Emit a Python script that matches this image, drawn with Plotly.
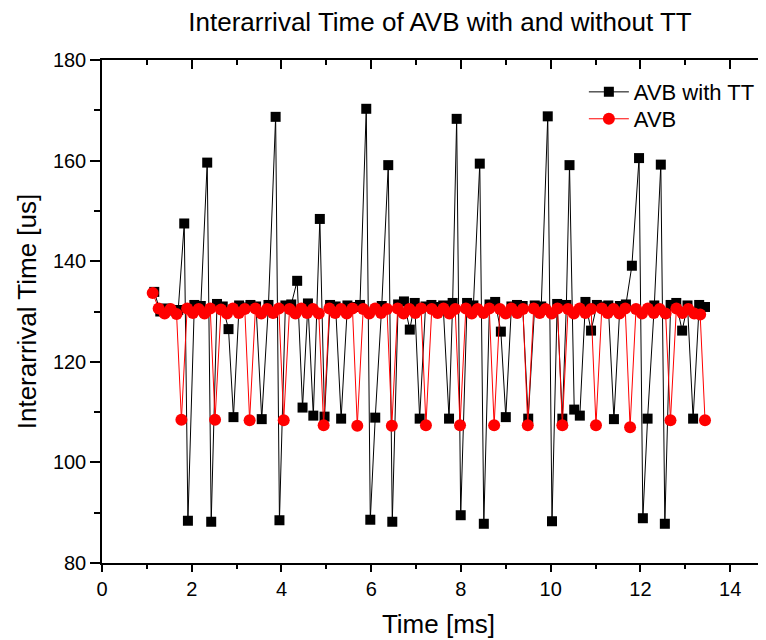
import plotly.graph_objects as go

# ---- data ----
avb_tt_time_ms = [
    1.165, 1.299, 1.432, 1.566, 1.699, 1.833, 1.915, 2.058, 2.202, 2.345,
    2.434, 2.563, 2.691, 2.820, 2.930, 3.056, 3.182, 3.308, 3.434, 3.560,
    3.710, 3.870, 3.955, 4.087, 4.218, 4.350, 4.470, 4.590, 4.710, 4.855,
    4.960, 5.083, 5.207, 5.330, 5.470, 5.610, 5.750, 5.890, 5.980, 6.090,
    6.235, 6.380, 6.470, 6.600, 6.730, 6.860, 6.970, 7.080, 7.211, 7.342,
    7.473, 7.604, 7.735, 7.815, 7.905, 7.995, 8.137, 8.278, 8.420, 8.510,
    8.637, 8.763, 8.890, 9.000, 9.125, 9.250, 9.375, 9.500, 9.645, 9.790,
    9.935, 10.030, 10.145, 10.260, 10.350, 10.420, 10.525, 10.650, 10.775, 10.900,
    11.030, 11.160, 11.285, 11.410, 11.543, 11.677, 11.810, 11.970, 12.055, 12.160,
    12.310, 12.455, 12.545, 12.673, 12.800, 12.930, 13.050, 13.175, 13.310, 13.440,
]
avb_tt_us = [
    133.9, 130.0, 130.6, 130.2, 130.3, 147.5, 88.4, 131.3, 131.1, 159.6,
    88.2, 131.5, 131.0, 126.5, 109.0, 131.2, 130.8, 131.3, 131.0, 108.6,
    131.3, 168.7, 88.5, 131.2, 131.4, 136.1, 110.9, 131.6, 109.3, 148.4,
    109.1, 131.3, 131.0, 108.7, 131.2, 130.9, 131.3, 170.3, 88.6, 108.9,
    131.1, 159.1, 88.2, 131.4, 132.0, 126.4, 131.7, 108.7, 131.0, 131.3,
    130.9, 131.2, 108.7, 131.7, 168.3, 89.5, 131.7, 131.2, 159.4, 87.8,
    131.4, 131.9, 126.0, 109.0, 131.0, 131.3, 131.1, 108.7, 131.2, 131.0,
    168.8, 88.3, 131.5, 108.7, 131.3, 159.1, 110.5, 109.3, 131.9, 126.2,
    131.3, 131.0, 131.2, 108.6, 131.1, 131.4, 139.1, 160.5, 88.9, 108.7,
    131.2, 159.2, 87.8, 131.3, 131.7, 126.2, 131.2, 108.7, 131.3, 130.9,
]

avb_time_ms = [
    1.130, 1.263, 1.396, 1.529, 1.662, 1.770,
    1.898, 2.027, 2.155, 2.284, 2.412, 2.520,
    2.652, 2.785, 2.917, 3.050, 3.182, 3.290,
    3.420, 3.551, 3.681, 3.812, 3.942, 4.050,
    4.180, 4.311, 4.441, 4.571, 4.702, 4.832, 4.940,
    5.068, 5.197, 5.325, 5.454, 5.582, 5.690,
    5.822, 5.955, 6.087, 6.220, 6.352, 6.460,
    6.590, 6.721, 6.851, 6.982, 7.112, 7.220,
    7.350, 7.481, 7.611, 7.742, 7.872, 7.980,
    8.110, 8.241, 8.371, 8.502, 8.632, 8.740,
    8.868, 8.997, 9.125, 9.254, 9.382, 9.490,
    9.622, 9.755, 9.887, 10.020, 10.152, 10.260,
    10.388, 10.517, 10.645, 10.774, 10.902, 11.010,
    11.140, 11.271, 11.401, 11.532, 11.662, 11.770,
    11.902, 12.034, 12.166, 12.298, 12.430, 12.562, 12.670,
    12.802, 12.935, 13.067, 13.200, 13.332, 13.440,
]
avb_us = [
    133.7, 130.6, 129.6, 130.5, 129.5, 108.5,
    130.6, 129.7, 130.5, 129.6, 130.6, 108.5,
    130.4, 129.6, 130.6, 129.7, 130.5, 108.4,
    130.6, 129.6, 130.5, 129.7, 130.6, 108.4,
    130.5, 129.6, 130.6, 129.7, 130.5, 129.6, 107.4,
    130.6, 129.7, 130.5, 129.6, 130.6, 107.3,
    130.5, 129.6, 130.6, 129.7, 130.5, 107.3,
    130.6, 129.6, 130.5, 129.7, 130.6, 107.4,
    130.5, 129.7, 130.6, 129.6, 130.5, 107.4,
    130.6, 129.6, 130.5, 129.7, 130.6, 107.4,
    130.5, 129.6, 130.6, 129.7, 130.5, 107.4,
    130.6, 129.7, 130.5, 129.6, 130.6, 107.4,
    130.5, 129.6, 130.6, 129.7, 130.5, 107.4,
    130.6, 129.7, 130.5, 129.6, 130.6, 107.0,
    130.5, 129.6, 130.6, 129.7, 130.5, 129.6, 108.4,
    130.6, 129.7, 130.5, 129.6, 129.4, 108.4,
]

series_names = ["AVB with TT", "AVB"]
x_tick_vals = [0, 2, 4, 6, 8, 10, 12, 14]
y_tick_vals = [80, 100, 120, 140, 160, 180]

FONT = "Liberation Sans, Arial, sans-serif"

fig = go.Figure()
fig.add_trace(go.Scatter(
    x=avb_tt_time_ms, y=avb_tt_us, name=series_names[0], mode="lines+markers",
    line=dict(color="#000000", width=1),
    marker=dict(symbol="square", size=10, color="#000000"),
    legend="legend",
))
fig.add_trace(go.Scatter(
    x=avb_time_ms, y=avb_us, name=series_names[1], mode="lines+markers",
    line=dict(color="#ff0000", width=1),
    marker=dict(symbol="circle", size=12, color="#ff0000"),
    legend="legend2",
))
# empty traces so the mirrored top / right frame axes are rendered
fig.add_trace(go.Scatter(x=[], y=[], xaxis="x2", yaxis="y", showlegend=False, hoverinfo="skip"))
fig.add_trace(go.Scatter(x=[], y=[], xaxis="x", yaxis="y2", showlegend=False, hoverinfo="skip"))

x_range = [0, 15]
y_range = [80, 180]

frame = dict(showgrid=False, zeroline=False, showline=True, linecolor="#000000",
             linewidth=1.5, tickwidth=1.5, tickcolor="#000000", automargin=False)

legend_style = dict(xanchor="left", yanchor="top", bgcolor="rgba(0,0,0,0)",
                    font=dict(size=22, family=FONT, color="#000000"), itemwidth=40)

fig.update_layout(
    width=768, height=640,
    margin=dict(l=94, r=1, t=52, b=85, autoexpand=False),
    paper_bgcolor="white", plot_bgcolor="white",
    font=dict(family=FONT, color="#000000"),
    title=dict(text="Interarrival Time of AVB with and without TT",
               x=0.5625, xref="container", xanchor="center",
               y=1 - 14 / 640, yref="container", yanchor="middle",
               font=dict(size=26, family=FONT, color="#000000")),
    xaxis=dict(
        range=x_range, tickvals=x_tick_vals, ticktext=[str(v) for v in x_tick_vals],
        ticks="outside", ticklen=7,
        minor=dict(dtick=1, tick0=0, ticks="outside", ticklen=4, tickwidth=1.5, tickcolor="#000000", showgrid=False),
        tickfont=dict(size=20, family=FONT),
        title=dict(text="Time [ms]", font=dict(size=26, family=FONT), standoff=16),
        **frame,
    ),
    xaxis2=dict(
        range=x_range, overlaying="x", side="top", anchor="y",
        tickvals=x_tick_vals, showticklabels=False,
        ticks="inside", ticklen=9,
        minor=dict(dtick=1, tick0=0, ticks="inside", ticklen=5, tickwidth=1.5, tickcolor="#000000", showgrid=False),
        **frame,
    ),
    yaxis=dict(
        range=y_range, tickvals=y_tick_vals, ticktext=[str(v) for v in y_tick_vals],
        ticks="outside", ticklen=10,
        minor=dict(dtick=10, tick0=80, ticks="outside", ticklen=6, tickwidth=1.5, tickcolor="#000000", showgrid=False),
        tickfont=dict(size=20, family=FONT),
        title=dict(text="Interarrival Time [us]", font=dict(size=26, family=FONT), standoff=9),
        **frame,
    ),
    yaxis2=dict(
        range=y_range, overlaying="y", side="right", anchor="x",
        tickvals=y_tick_vals, showticklabels=False,
        ticks="inside", ticklen=10,
        minor=dict(dtick=10, tick0=80, ticks="inside", ticklen=6, tickwidth=1.5, tickcolor="#000000", showgrid=False),
        **frame,
    ),
    legend=dict(x=0.716, y=0.978, **legend_style),
    legend2=dict(x=0.716, y=0.9245, **legend_style),
    showlegend=True,
)

fig.write_html("out.html")
